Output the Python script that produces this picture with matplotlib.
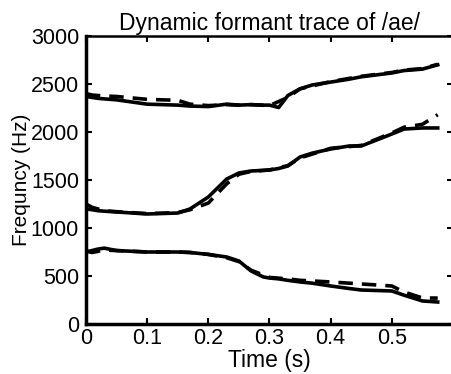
"""Dynamic formant trace of /ae/"""
import matplotlib
matplotlib.use('Agg')
import matplotlib.pyplot as plt

plt.rcParams['font.family'] = ['Liberation Sans', 'DejaVu Sans']

# measured track (solid)
t_solid = [0.0, 0.02, 0.03, 0.05, 0.1, 0.15, 0.17, 0.2, 0.23, 0.25, 0.27,
           0.29, 0.3, 0.315, 0.33, 0.35, 0.37, 0.4, 0.43, 0.45, 0.5, 0.52,
           0.55, 0.575]
f1_solid = [750, 781, 790, 765, 750, 750, 745, 725, 698, 656, 552, 490, 479,
            470, 455, 438, 425, 396, 370, 354, 344, 300, 240, 229]
f2_solid = [1200, 1180, 1175, 1167, 1146, 1156, 1198, 1323, 1510, 1573, 1594,
            1600, 1604, 1620, 1646, 1740, 1780, 1823, 1854, 1854, 1979, 2031,
            2042, 2042]
f3_solid = [2370, 2350, 2345, 2335, 2290, 2280, 2270, 2265, 2290, 2280, 2285,
            2280, 2280, 2255, 2380, 2450, 2490, 2520, 2550, 2575, 2615, 2640,
            2655, 2700]

# model track (dashed)
t_dash = [0.0, 0.01, 0.03, 0.05, 0.1, 0.15, 0.17, 0.2, 0.23, 0.25, 0.27,
          0.3, 0.33, 0.35, 0.4, 0.45, 0.5, 0.52, 0.55, 0.575]
f1_dash = [760, 745, 770, 765, 750, 750, 745, 725, 690, 650, 560, 485, 470,
           455, 438, 417, 396, 333, 271, 270]
f2_dash = [1250, 1215, 1180, 1170, 1150, 1160, 1190, 1260, 1460, 1560, 1590,
           1605, 1650, 1730, 1830, 1860, 1990, 2050, 2080, 2180]
f3_dash = [2400, 2385, 2375, 2370, 2340, 2330, 2290, 2275, 2285, 2280, 2285,
           2275, 2360, 2450, 2525, 2580, 2620, 2645, 2660, 2705]

xticks = [0, 0.1, 0.2, 0.3, 0.4, 0.5]
yticks = [0, 500, 1000, 1500, 2000, 2500, 3000]

fig = plt.figure(figsize=(4.52, 3.74), dpi=100)
ax = fig.add_axes([86 / 452, 50 / 374, 367 / 452, 288 / 374])

for f in (f1_solid, f2_solid, f3_solid):
    ax.plot(t_solid, f, 'k-', lw=2.6)
for f in (f1_dash, f2_dash, f3_dash):
    ax.plot(t_dash, f, 'k--', lw=2.6, dashes=(4, 2.5))

ax.set_xlim(0, 0.6)
ax.set_ylim(0, 3000)
ax.set_xticks(xticks)
ax.set_xticklabels(['0', '0.1', '0.2', '0.3', '0.4', '0.5'])
ax.set_yticks(yticks)
ax.tick_params(direction='in', top=True, right=True, length=4, width=1.5,
               labelsize=15.5)
ax.tick_params(axis='y', pad=5)
ax.tick_params(axis='x', pad=3)
for s in ax.spines.values():
    s.set_linewidth(1.8)
ax.spines['left'].set_linewidth(2.5)
ax.spines['bottom'].set_linewidth(2.5)

ax.set_title('Dynamic formant trace of /ae/', fontsize=16.5, pad=4)
ax.set_xlabel('Time (s)', fontsize=16.5, labelpad=0)
ax.set_ylabel('Frequncy (Hz)', fontsize=15, labelpad=0)

fig.savefig('out.png', dpi=100)
